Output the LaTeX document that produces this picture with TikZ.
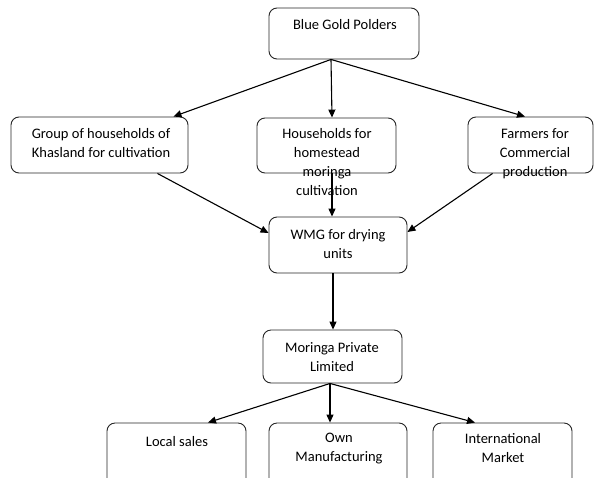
\documentclass[tikz,border=0pt]{standalone}
\usepackage{fontspec}
\setmainfont{Carlito}
\usetikzlibrary{calc,arrows.meta}
\begin{document}
\begin{tikzpicture}[x=1pt,y=-1pt,
  box/.style={draw=black!85,line width=0.9pt,rounded corners=8pt,inner sep=0pt},
  txt/.style={font=\fontsize{14.5}{19}\selectfont,align=center,inner sep=0pt,anchor=north},
  arr/.style={line width=1.1pt,-{Triangle[length=8pt,width=7pt]}}]
\useasboundingbox (0,0) rectangle (594,477);
\clip (0,0) rectangle (594,477);
\fill[white] (0,0) rectangle (594,477);
% boxes
\node[box,minimum width=150pt,minimum height=51pt] (b1) at (344,33.5) {};
\node[box,minimum width=177pt,minimum height=56pt] (b2) at (99.5,145) {};
\node[box,minimum width=139pt,minimum height=55pt] (b3) at (326.5,145.5) {};
\node[box,minimum width=125pt,minimum height=56pt] (b4) at (530.5,145) {};
\node[box,minimum width=138pt,minimum height=56pt] (b5) at (338,245) {};
\node[box,minimum width=139pt,minimum height=53pt] (b6) at (332.5,356.5) {};
\node[box,minimum width=139pt,minimum height=67pt] (b7) at (176.5,456.5) {};
\node[box,minimum width=138pt,minimum height=67pt] (b8) at (338,456.5) {};
\node[box,minimum width=139pt,minimum height=67pt] (b9) at (502.5,456.5) {};
% texts
\node[txt] (t1) at (345,19.5) {Blue Gold Polders};
\node[txt] (t2) at (101,128.5) {Group of households of\\Khasland for cultivation};
\node[txt] (t3) at (327,128.5) {Households for\\homestead\\moringa\\cultivation};
\node[txt] (t4) at (535,128) {Farmers for\\Commercial\\production};
\node[txt] (t5) at (338,229) {WMG for drying\\units};
\node[txt] (t6) at (332,342) {Moringa Private\\Limited};
\node[txt] (t7) at (177,436) {Local sales};
\node[txt] (t8) at (339,433) {Own\\Manufacturing};
\node[txt] (t9) at (503,433) {International\\Market};
% connectors
\draw[arr] ($(b1.south)+(-13,0)$) -- ($(b2.north east)+(-15,0)$);
\draw[arr] ($(b1.south)+(-13,0)$) -- ($(b3.north)+(5.5,0)$);
\draw[arr] ($(b1.south)+(-13,0)$) -- ($(b4.north)+(-5.5,0)$);
\draw[arr] ($(b2.south east)+(-31,0)$) -- ($(b5.west)+(0,-12)$);
\draw[arr] ($(b3.south)+(5.5,0)$) -- ($(b5.north)+(-6,0)$);
\draw[arr] ($(b4.south west)+(25,0)$) -- ($(b5.east)+(0,-13)$);
\draw[arr] ($(b5.south)+(-5,0)$) -- ($(b6.north)+(0.5,0)$);
\draw[arr] ($(b6.south)+(-2.5,0)$) -- ($(b7.north)+(31.5,0)$);
\draw[arr] ($(b6.south)+(-2.5,0)$) -- ($(b8.north)+(-8,0)$);
\draw[arr] ($(b6.south)+(-2.5,0)$) -- ($(b9.north)+(-27.5,0)$);
\end{tikzpicture}
\end{document}
